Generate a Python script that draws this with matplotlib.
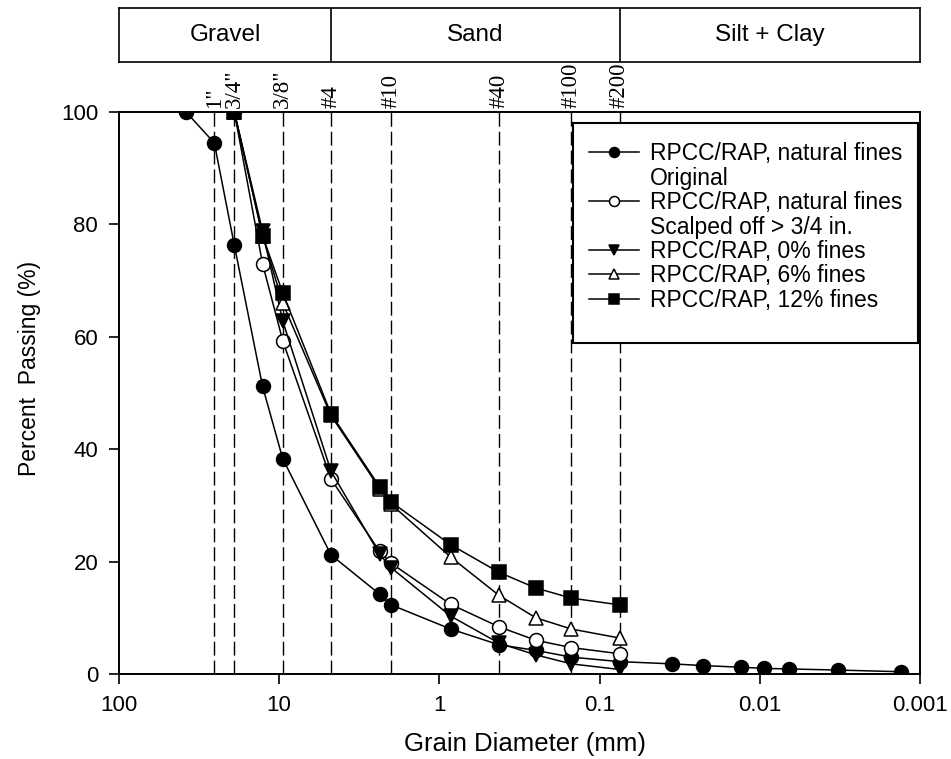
"""Grain-size distribution of RPCC/RAP blends with sieve sizes and soil zones."""

import numpy as np
import matplotlib

matplotlib.use("Agg")
import matplotlib.pyplot as plt
from matplotlib.lines import Line2D
from matplotlib.patches import Rectangle
from matplotlib.transforms import blended_transform_factory

plt.rcParams["font.family"] = ["Liberation Sans", "DejaVu Sans"]

# sieve openings (mm) used for the gradations
d_orig = [38.1, 25.4, 19.05, 12.7, 9.5, 4.75, 2.36, 2.0, 0.85, 0.425, 0.25, 0.15, 0.075,
          0.0353, 0.0226, 0.0131, 0.0094, 0.0066, 0.00325, 0.00131]
p_orig = [100, 94.5, 76.3, 51.2, 38.3, 21.2, 14.2, 12.3, 8.0, 5.2, 4.2, 3.0, 2.2,
          1.8, 1.5, 1.2, 1.0, 0.9, 0.7, 0.4]

d_blend = [19.05, 12.7, 9.5, 4.75, 2.36, 2.0, 0.85, 0.425, 0.25, 0.15, 0.075]
p_scalped = [100, 73.0, 59.3, 34.7, 21.8, 19.7, 12.4, 8.4, 6.0, 4.7, 3.6]
p_fines0 = [100, 78.8, 62.8, 36.1, 21.3, 18.9, 10.3, 5.5, 3.4, 1.8, 0.8]
p_fines6 = [100, 78.0, 66.0, 46.0, 33.0, 30.2, 20.8, 14.0, 10.0, 8.0, 6.4]
p_fines12 = [100, 78.0, 67.8, 46.3, 33.3, 30.6, 23.0, 18.1, 15.3, 13.5, 12.3]

sieve_mm = [25.4, 19.05, 9.5, 4.75, 2.0, 0.425, 0.15, 0.075]
sieve_names = ['1"', '3/4"', '3/8"', '#4', '#10', '#40', '#100', '#200']

zone_names = ["Gravel", "Sand", "Silt + Clay"]
zone_edges = [100, 4.75, 0.075, 0.001]

fig = plt.figure(figsize=(9.51, 7.59), dpi=100)
ax = fig.add_axes([0.1251, 0.1120, 0.8423, 0.7404])

for d in sieve_mm:
    ax.plot([d, d], [0, 100], color="black", lw=1.0, ls=(0, (10, 3.6)), zorder=1)

mk = dict(color="black", lw=1.1, ms=10, mec="black", mew=1.1, zorder=3)
h1, = ax.plot(d_orig, p_orig, marker="o", mfc="black", **mk)
h2, = ax.plot(d_blend, p_scalped, marker="o", mfc="white", **mk)
h3, = ax.plot(d_blend, p_fines0, marker="v", mfc="black", **mk)
h4, = ax.plot(d_blend, p_fines6, marker="^", mfc="white", **mk)
h5, = ax.plot(d_blend, p_fines12, marker="s", mfc="black", **mk)

ax.set_xscale("log")
ax.set_xlim(100, 0.001)
ax.set_ylim(0, 100)
ax.set_xticks([100, 10, 1, 0.1, 0.01, 0.001])
ax.set_xticklabels(["100", "10", "1", "0.1", "0.01", "0.001"])
ax.xaxis.set_minor_locator(matplotlib.ticker.NullLocator())
ax.set_yticks(np.arange(0, 101, 20))
ax.tick_params(axis="both", direction="out", length=7, width=1.2, labelsize=16, pad=8)
for s in ax.spines.values():
    s.set_linewidth(1.4)

ax.set_xlabel("Grain Diameter (mm)", fontsize=18.5)
ax.set_ylabel("Percent  Passing (%)", fontsize=16.5)
ax.xaxis.set_label_coords(0.507, -0.103)
ax.yaxis.set_label_coords(-0.097, 0.543)

# sieve names above the plot
tr = blended_transform_factory(ax.transData, ax.transAxes)
for d, name in zip(sieve_mm, sieve_names):
    ax.text(d, 1.007, name, transform=tr, rotation=90, ha="center", va="bottom",
            fontsize=16.5, family=["Liberation Serif", "DejaVu Serif"])

# legend: second lines of the two long labels sit on their own rows
blank = Line2D([], [], linestyle="none")
handles = [h1, blank, h2, blank, h3, h4, h5]
labels = ["RPCC/RAP, natural fines", "Original",
          "RPCC/RAP, natural fines", "Scalped off > 3/4 in.",
          "RPCC/RAP, 0% fines", "RPCC/RAP, 6% fines", "RPCC/RAP, 12% fines"]
leg = ax.legend(handles, labels, loc="upper left", bbox_to_anchor=(0.5868, 0.9466),
                borderaxespad=0, borderpad=0, fontsize=16.5, frameon=False,
                handlelength=2.2, handletextpad=0.45, labelspacing=0.065,
                markerscale=0.72)
leg.set_zorder(6)
ax.add_patch(Rectangle((0.5668, 0.589), 0.4307, 0.3914, transform=ax.transAxes,
                       facecolor="white", edgecolor="black", lw=1.5, zorder=5))

# soil classification band
axz = fig.add_axes([0.1251, 0.9183, 0.8423, 0.0712])
axz.set_xscale("log")
axz.set_xlim(100, 0.001)
axz.set_ylim(0, 1)
axz.set_xticks([])
axz.set_yticks([])
axz.xaxis.set_minor_locator(matplotlib.ticker.NullLocator())
for s in axz.spines.values():
    s.set_linewidth(1.2)
for e in zone_edges[1:-1]:
    axz.axvline(e, color="black", lw=1.2)
for name, a, b in zip(zone_names, zone_edges[:-1], zone_edges[1:]):
    axz.text(np.sqrt(a * b), 0.5, name, ha="center", va="center", fontsize=17.5)

fig.savefig("out.png", dpi=100)
